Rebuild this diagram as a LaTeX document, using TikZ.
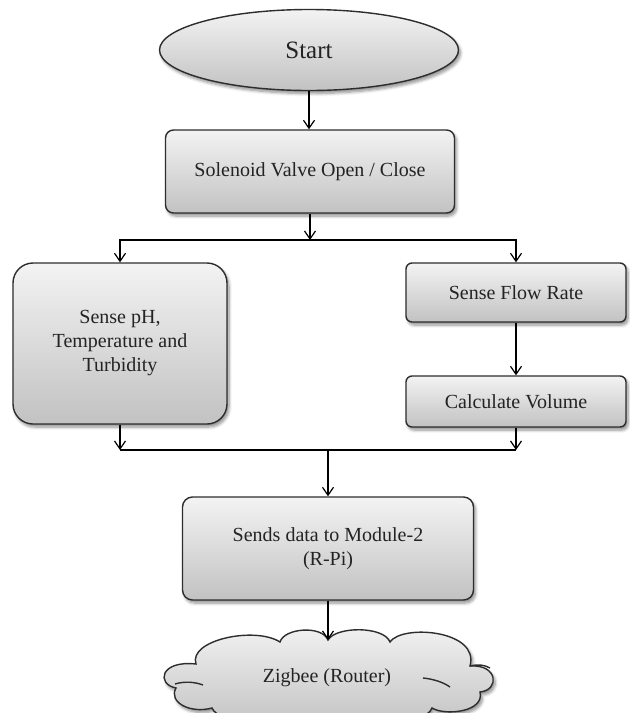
\documentclass[tikz,border=0pt]{standalone}
\usepackage{fontspec}
\setmainfont{Liberation Serif}
\usetikzlibrary{shapes.geometric,arrows.meta,shadows.blur}
\definecolor{fillTop}{RGB}{243,243,243}
\definecolor{fillBot}{RGB}{194,194,194}
\definecolor{edge}{RGB}{45,45,45}
\definecolor{ink}{RGB}{35,35,35}

\begin{document}
\begin{tikzpicture}[x=0.5pt,y=-0.5pt,
  shade3d/.style={top color=fillTop, bottom color=fillBot, draw=edge, line width=0.7pt,
    blur shadow={shadow xshift=1pt, shadow yshift=-1.5pt, shadow blur steps=6,
                 shadow opacity=45, shadow blur radius=1.5pt}},
  procbox/.style={shade3d, rectangle, rounded corners=4pt, align=center,
    font=\fontsize{10}{12}\selectfont, text=ink, inner sep=2pt},
  link/.style={draw=black, line width=0.6pt},
  arrowline/.style={link, -{Straight Barb[length=4pt,width=5.5pt,line width=0.6pt]}}
]
\useasboundingbox (0,0) rectangle (629,713);

% terminal and process blocks
\node[shade3d, ellipse, minimum width=149.5pt, minimum height=40.5pt,
      font=\fontsize{12.5}{15}\selectfont, text=ink] (start) at (309,50) {Start};
\node[procbox, minimum width=144.5pt, minimum height=41.5pt] (valve) at (310,171.5)
      {Solenoid Valve Open / Close};
\node[procbox, rounded corners=10pt, minimum width=107pt, minimum height=80.5pt]
      (sense) at (120,343.5) {Sense pH,\\Temperature and\\Turbidity};
\node[procbox, rounded corners=3pt, minimum width=110pt, minimum height=29.5pt]
      (flowrate) at (516,292.5) {Sense Flow Rate};
\node[procbox, rounded corners=3pt, minimum width=110pt, minimum height=25.5pt]
      (volume) at (516,401.5) {Calculate Volume};
\node[procbox, rounded corners=5pt, minimum width=145.5pt, minimum height=51.5pt]
      (send) at (328,548.5) {Sends data to Module-2\\(R-Pi)};

% cloud outline for the router
\path[shade3d]
  (196,664) .. controls (188,640) and (255,626) .. (280,642)
  .. controls (284,628) and (322,625) .. (328,640)
  .. controls (336,626) and (384,626) .. (390,642)
  .. controls (402,624) and (480,630) .. (470,666)
  .. controls (498,664) and (500,690) .. (480,692)
  .. controls (485,712) and (445,716) .. (432,708)
  .. controls (425,726) and (365,728) .. (360,716)
  .. controls (352,728) and (296,728) .. (290,716)
  .. controls (282,728) and (218,724) .. (212,708)
  .. controls (190,714) and (168,702) .. (176,688)
  .. controls (156,684) and (160,660) .. (196,664) -- cycle;
\draw[edge, line width=0.7pt] (175,684) .. controls (185,681) and (195,682) .. (203,685);
\draw[edge, line width=0.7pt] (423,678) .. controls (433,679) and (443,682) .. (450,687);
\draw[edge, line width=0.7pt] (470,666) .. controls (478,664) and (485,665) .. (490,668);
\node[text=ink, font=\fontsize{10}{12}\selectfont] (router) at (327,678) {Zigbee (Router)};
\coordinate (cloudtop) at (328,640);

% junction points
\coordinate (split) at (310,240);
\coordinate (join) at (328,450);

% connectors
\draw[arrowline] (start.south) -- (start.south |- valve.north);
\draw[arrowline] (valve.south) -- (valve.south |- split);
\draw[arrowline] (valve.south |- split) -| (sense.north);
\draw[arrowline] (valve.south |- split) -| (flowrate.north);
\draw[arrowline] (flowrate.south) -- (volume.north);
\draw[arrowline] (sense.south) -- (sense.south |- join);
\draw[arrowline] (volume.south) -- (volume.south |- join);
\draw[link] (sense.south |- join) -- (volume.south |- join);
\draw[arrowline] (join) -- (join |- send.north);
\draw[arrowline] (send.south) -- (send.south |- cloudtop);
\end{tikzpicture}
\end{document}
